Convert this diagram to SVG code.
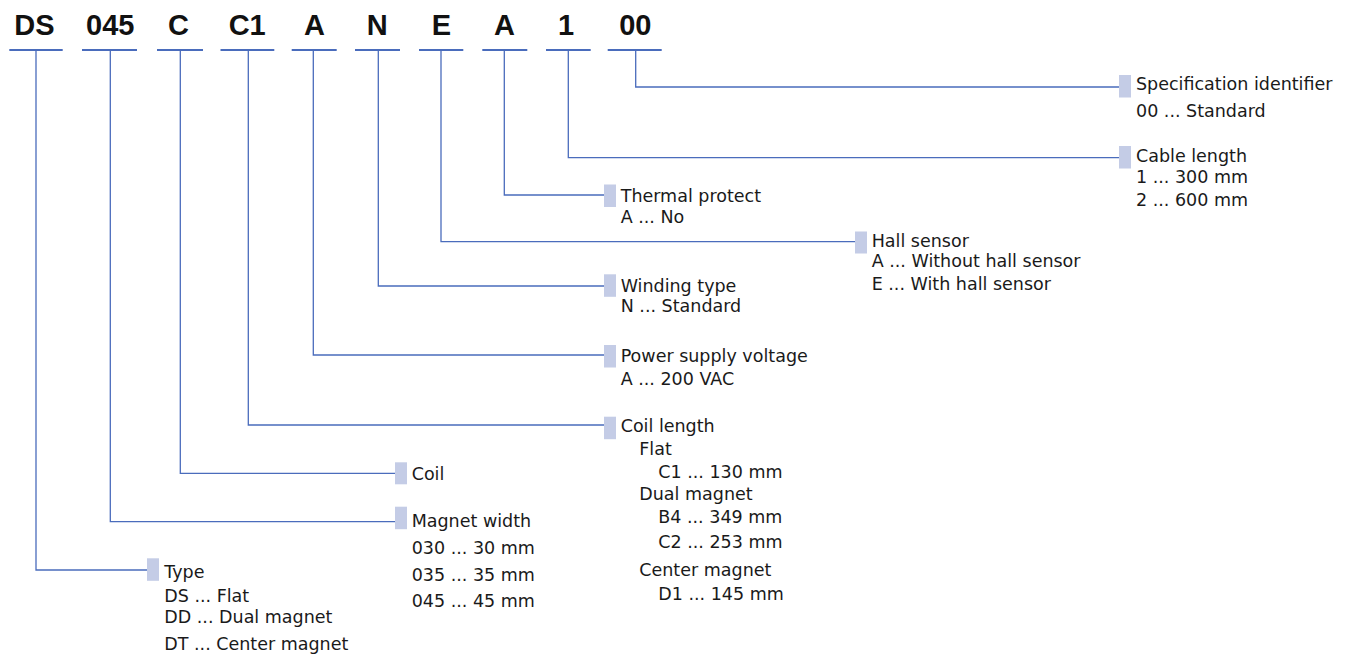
<svg xmlns="http://www.w3.org/2000/svg" width="1353" height="657" viewBox="0 0 1353 657">
  <style>
    .code { font-family: "Liberation Sans", Arial, sans-serif; font-weight: bold; font-size: 29px; fill: #111; text-anchor: middle; }
    .ul { stroke: #4a6cbc; stroke-width: 2; fill: none; }
    .link { stroke: #4a6cbc; stroke-width: 1.3; fill: none; }
    .tab { fill: #c4cce6; }
    .lbl { font-family: "DejaVu Sans", "Liberation Sans", sans-serif; font-size: 17.5px; fill: #1a1a1a; }
  </style>
  <rect width="1353" height="657" fill="#ffffff"/>

  <!-- order code segments -->
  <g id="code">
    <text class="code" x="34.5" y="35">DS</text>
    <text class="code" x="110.3" y="35">045</text>
    <text class="code" x="178.5" y="35">C</text>
    <text class="code" x="247.2" y="35">C1</text>
    <text class="code" x="314.5" y="35">A</text>
    <text class="code" x="377.3" y="35">N</text>
    <text class="code" x="441.5" y="35">E</text>
    <text class="code" x="504.5" y="35">A</text>
    <text class="code" x="566" y="35">1</text>
    <text class="code" x="635.3" y="35">00</text>
    <path class="ul" d="M9.3 50H62.7M82 50H137M157 50H203M291.7 50H336.7M355 50H400M419 50H463.3M482.3 50H527.3M546 50H590.7M607.7 50H661.7"/>
    <path class="ul" d="M220.5 50H274.3" stroke-width="2.6" stroke="#3d5fae"/>
  </g>

  <!-- leader lines from each segment to its description -->
  <g id="connectors">
    <path class="link" d="M36 50V570H147"/>
    <path class="link" d="M110.3 50V521.7H395"/>
    <path class="link" d="M180.3 50V473.3H395"/>
    <path class="link" d="M248.3 50V425H604"/>
    <path class="link" d="M313.3 50V355H604"/>
    <path class="link" d="M378.3 50V286H604"/>
    <path class="link" d="M441 50V241.7H855"/>
    <path class="link" d="M504.3 50V195H604"/>
    <path class="link" d="M568.3 50V157.7H1119"/>
    <path class="link" d="M635.7 50V87H1119"/>
  </g>

  <g id="spec-identifier">
    <rect class="tab" x="1119" y="75" width="12" height="22.5"/>
    <text class="lbl" x="1136" y="90">Specification identifier</text>
    <text class="lbl" x="1136" y="117">00 ... Standard</text>
  </g>

  <g id="cable-length">
    <rect class="tab" x="1119" y="146" width="12" height="22.5"/>
    <text class="lbl" x="1136" y="161.7">Cable length</text>
    <text class="lbl" x="1136" y="183">1 ... 300 mm</text>
    <text class="lbl" x="1136" y="206">2 ... 600 mm</text>
  </g>

  <g id="thermal-protect">
    <rect class="tab" x="604" y="184.5" width="12" height="22.5"/>
    <text class="lbl" x="620.7" y="201.7">Thermal protect</text>
    <text class="lbl" x="620.7" y="223.3">A ... No</text>
  </g>

  <g id="hall-sensor">
    <rect class="tab" x="855" y="231.5" width="12" height="22"/>
    <text class="lbl" x="871.7" y="247.3">Hall sensor</text>
    <text class="lbl" x="871.7" y="267.3">A ... Without hall sensor</text>
    <text class="lbl" x="871.7" y="290">E ... With hall sensor</text>
  </g>

  <g id="winding-type">
    <rect class="tab" x="604" y="274.3" width="12" height="22.5"/>
    <text class="lbl" x="620.7" y="291.7">Winding type</text>
    <text class="lbl" x="620.7" y="311.7">N ... Standard</text>
  </g>

  <g id="supply-voltage">
    <rect class="tab" x="604" y="345" width="12" height="22.5"/>
    <text class="lbl" x="620.7" y="361.7">Power supply voltage</text>
    <text class="lbl" x="620.7" y="385">A ... 200 VAC</text>
  </g>

  <g id="coil-length">
    <rect class="tab" x="604" y="416.7" width="12" height="22.5"/>
    <text class="lbl" x="620.7" y="431.7">Coil length</text>
    <text class="lbl" x="639.3" y="455">Flat</text>
    <text class="lbl" x="658.3" y="478.3">C1 ... 130 mm</text>
    <text class="lbl" x="639.3" y="500">Dual magnet</text>
    <text class="lbl" x="658.3" y="523.3">B4 ... 349 mm</text>
    <text class="lbl" x="658.3" y="548.3">C2 ... 253 mm</text>
    <text class="lbl" x="639.3" y="576">Center magnet</text>
    <text class="lbl" x="658.3" y="600">D1 ... 145 mm</text>
  </g>

  <g id="coil">
    <rect class="tab" x="395" y="462.3" width="12" height="22"/>
    <text class="lbl" x="411.7" y="480">Coil</text>
  </g>

  <g id="magnet-width">
    <rect class="tab" x="395" y="506.7" width="12" height="22.5"/>
    <text class="lbl" x="411.7" y="527.3">Magnet width</text>
    <text class="lbl" x="411.7" y="554">030 ... 30 mm</text>
    <text class="lbl" x="411.7" y="580.7">035 ... 35 mm</text>
    <text class="lbl" x="411.7" y="606.7">045 ... 45 mm</text>
  </g>

  <g id="type">
    <rect class="tab" x="147" y="558.3" width="12" height="22.5"/>
    <text class="lbl" x="164.3" y="578.3">Type</text>
    <text class="lbl" x="164.3" y="601.7">DS ... Flat</text>
    <text class="lbl" x="164.3" y="623.3">DD ... Dual magnet</text>
    <text class="lbl" x="164.3" y="650">DT ... Center magnet</text>
  </g>
</svg>
